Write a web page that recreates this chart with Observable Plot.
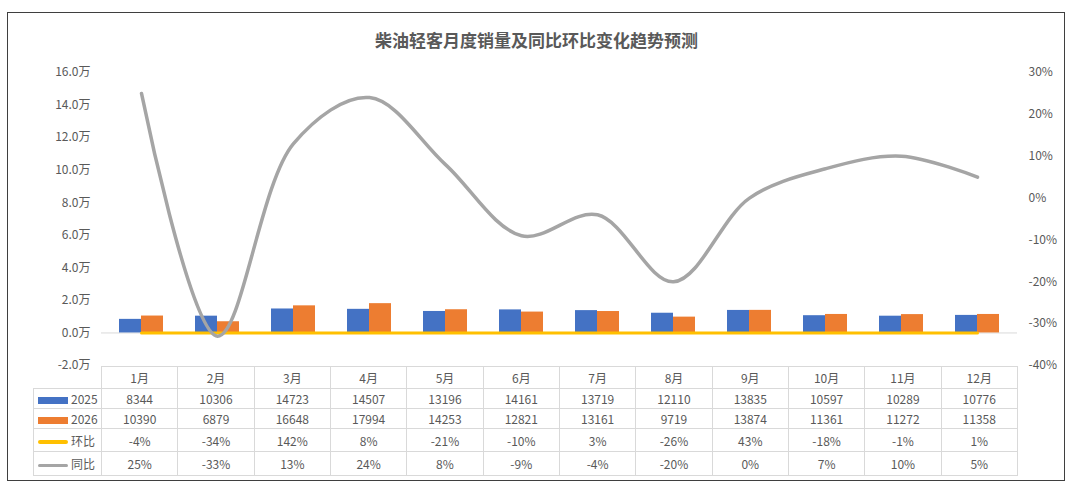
<!DOCTYPE html>
<html><head><meta charset="utf-8">
<script src="https://cdn.jsdelivr.net/npm/d3@7"></script>
<script src="https://cdn.jsdelivr.net/npm/@observablehq/plot@0.6"></script>
<style>
body{margin:0;width:1080px;height:492px;background:#fff;font-family:"Noto Sans CJK SC","Noto Sans",sans-serif;color:#595959;position:relative;overflow:hidden}
#frame{position:absolute;left:7px;top:12px;width:1056px;height:467px;border:1.5px solid #3f3f3f;pointer-events:none}
#title{margin-left:7px;width:1059px;height:56px;box-sizing:border-box;padding-top:29px;text-align:center;font-size:17px;font-weight:bold;line-height:22px;color:#595959}
#chart svg{display:block;overflow:visible}
table{border-collapse:collapse;table-layout:fixed;margin-left:33px;width:984px;font-size:12px;color:#595959}
td{border:1px solid #d9d9d9;text-align:center;padding:0;white-space:nowrap}
td.blank{border:none}
td.leg{text-align:left;padding-left:4px}
.sw{display:inline-block;width:30px;vertical-align:middle;margin-right:3px}
</style></head>
<body>
<div id="title">柴油轻客月度销量及同比环比变化趋势预测</div>
<div id="chart"></div>
<div id="tbl"></div>
<div id="frame"></div>
<script>
const months = ["1月","2月","3月","4月","5月","6月","7月","8月","9月","10月","11月","12月"];
const sales2025 = [8344,10306,14723,14507,13196,14161,13719,12110,13835,10597,10289,10776];
const sales2026 = [10390,6879,16648,17994,14253,12821,13161,9719,13874,11361,11272,11358];
const momPct = [-4,-34,142,8,-21,-10,3,-26,43,-18,-1,1];
const yoyPct = [25,-33,13,24,8,-9,-4,-20,0,7,10,5];
const leftTicks = [-20000,0,20000,40000,60000,80000,100000,120000,140000,160000];
const rightTicks = [-40,-30,-20,-10,0,10,20,30];

const colors = {y2025:"#4472c4", y2026:"#ed7d31", mom:"#ffc000", yoy:"#a5a5a5"};

// secondary axis (percent) mapped onto the primary axis (units)
const L0 = -20000, L1 = 160000, R0 = -40, R1 = 30;
const toLeft = p => L0 + (p - R0) / (R1 - R0) * (L1 - L0);
const fromLeft = v => R0 + (v - L0) / (L1 - L0) * (R1 - R0);

const d25 = months.map((m,i)=>({month:m, value:sales2025[i]}));
const d26 = months.map((m,i)=>({month:m, value:sales2026[i]}));
const dMom = months.map((m,i)=>({month:m, value:momPct[i]/100}));
const dYoy = months.map((m,i)=>({month:m, value:toLeft(yoyPct[i])}));

const font = '"Noto Sans CJK SC", sans-serif';
const chart = Plot.plot({
  width:1080, height:310,
  marginTop:16, marginBottom:1, marginLeft:101, marginRight:63,
  style:{fontFamily:font, fontSize:"12px", color:"#595959", background:"transparent", overflow:"visible"},
  x:{domain:months, type:"band", paddingInner:0.4236, paddingOuter:0.2118, axis:null},
  y:{domain:[L0,L1], label:null},
  marks:[
    Plot.ruleY([0], {stroke:"#d9d9d9", strokeWidth:1}),
    Plot.barY(d25, {x:"month", y:"value", fill:colors.y2025, insetRight:22}),
    Plot.barY(d26, {x:"month", y:"value", fill:colors.y2026, insetLeft:22}),
    Plot.line(dMom, {x:"month", y:"value", stroke:colors.mom, strokeWidth:3}),
    Plot.line(dYoy, {x:"month", y:"value", stroke:colors.yoy, strokeWidth:3.5, curve:"catmull-rom"}),
    Plot.axisY(leftTicks, {anchor:"left", label:null, tickSize:0, tickPadding:11, tickFormat:d=>(d/10000).toFixed(1)+"万", fill:"#595959", fontSize:12}),
    Plot.axisY(rightTicks.map(toLeft), {anchor:"right", label:null, tickSize:0, tickPadding:11, tickFormat:d=>Math.round(fromLeft(d))+"%", fill:"#595959", fontSize:12, textAnchor:"start"})
  ]
});
document.getElementById("chart").appendChild(chart);

// data table
const colW = 916/12;
let html = '<table><colgroup><col style="width:68px">' + months.map(()=>`<col style="width:${colW}px">`).join("") + '</colgroup>';
html += '<tr style="height:22px"><td class="blank"></td>' + months.map(m=>`<td>${m}</td>`).join("") + '</tr>';
const sw = (c,h,r) => `<span class="sw" style="height:${h}px;background:${c};border-radius:${r}px"></span>`;
const rows = [
  {label:"2025", sw:sw(colors.y2025,7,0), vals:sales2025.map(String), h:20},
  {label:"2026", sw:sw(colors.y2026,7,0), vals:sales2026.map(String), h:20},
  {label:"环比", sw:sw(colors.mom,3.5,2), vals:momPct.map(v=>v+"%"), h:23},
  {label:"同比", sw:sw(colors.yoy,3.5,2), vals:yoyPct.map(v=>v+"%"), h:24}
];
for (const r of rows) {
  html += `<tr style="height:${r.h}px"><td class="leg">${r.sw}${r.label}</td>` + r.vals.map(v=>`<td>${v}</td>`).join("") + '</tr>';
}
html += '</table>';
document.getElementById("tbl").innerHTML = html;
</script>
</body></html>
